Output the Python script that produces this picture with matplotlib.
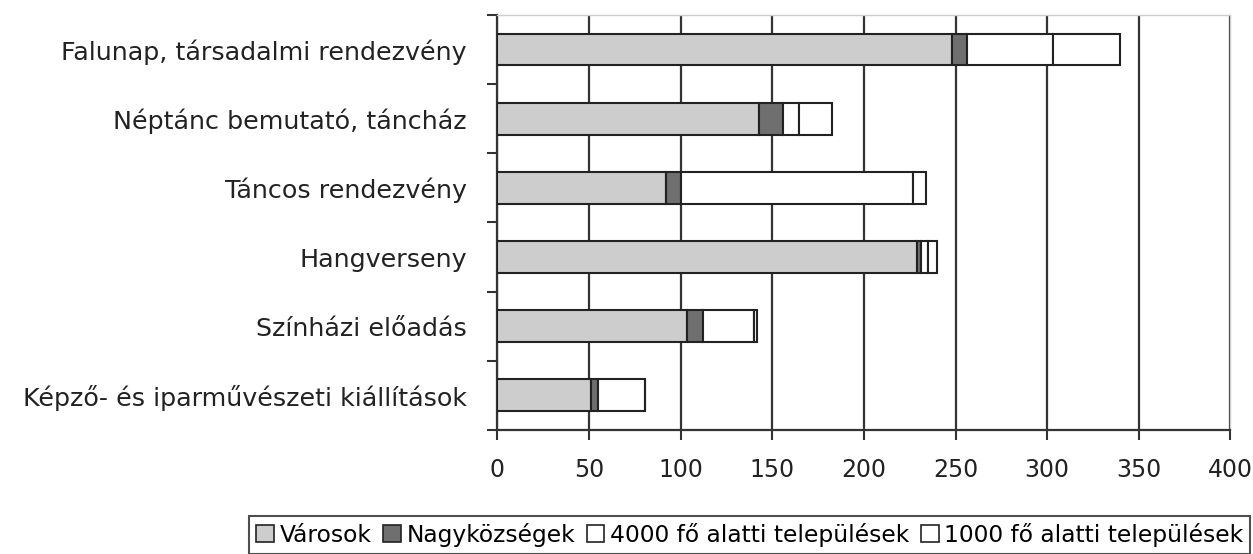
import matplotlib
matplotlib.use("Agg")
import matplotlib.pyplot as plt
from matplotlib.patches import Patch

categories = ["Falunap, társadalmi rendezvény", "Néptánc bemutató, táncház",
              "Táncos rendezvény", "Hangverseny", "Színházi előadás",
              "Képző- és iparművészeti kiállítások"]
series_names = ["Városok", "Nagyközségek", "4000 fő alatti települések",
                "1000 fő alatti települések"]
varosok = [248, 143, 92, 229, 103.5, 51]
nagykozsegek = [8, 13, 8, 2, 8.5, 4]
alatt4000 = [47, 8.5, 127, 4, 28, 25.5]
alatt1000 = [37, 18, 7, 5, 1.5, 0]
xticks = [0, 50, 100, 150, 200, 250, 300, 350, 400]

colors = ["#cdcdcd", "#6f6f6f", "#ffffff", "#ffffff"]

plt.rcParams['font.family'] = ['DejaVu Sans']
fig = plt.figure(figsize=(12.53, 5.54), dpi=100)
ax = fig.add_axes([0.397, 0.224, 0.585, 0.749])

y = list(range(len(categories)))
left = [0] * len(categories)
for vals, col in zip([varosok, nagykozsegek, alatt4000, alatt1000], colors):
    ax.barh(y, vals, left=left, height=0.46, color=col, edgecolor="#222222",
            linewidth=1.5, zorder=3)
    left = [l + v for l, v in zip(left, vals)]

ax.set_xlim(0, 400)
ax.set_ylim(len(categories) - 0.5, -0.5)
ax.set_xticks(xticks)
ax.set_xticklabels([str(t) for t in xticks], fontsize=17, color="#222222")
ax.set_yticks(y)
ax.set_yticklabels(categories, fontsize=18.3, color="#222222")
ax.tick_params(axis='y', length=0, pad=22)
ax.tick_params(axis='x', length=7, width=1.5, color="#333333", pad=13)
ax.set_yticks([i + 0.5 for i in range(-1, len(categories))], minor=True)
ax.tick_params(axis='y', which='minor', length=7, width=1.5, color="#333333")

ax.grid(axis='x', color="#333333", linewidth=1.6, zorder=0)
for s in ['left', 'bottom']:
    ax.spines[s].set_color("#333333")
    ax.spines[s].set_linewidth(1.6)
for s in ['top', 'right']:
    ax.spines[s].set_color("#cccccc")
    ax.spines[s].set_linewidth(1.0)

handles = [Patch(facecolor=c, edgecolor="#222222", linewidth=1.2) for c in colors]
leg = fig.legend(handles, series_names, loc='lower right',
                 bbox_to_anchor=(0.998, 0.0), ncol=4, fontsize=16.8,
                 frameon=True, fancybox=False, edgecolor="#222222",
                 handlelength=0.75, handleheight=0.75, handletextpad=0.25,
                 columnspacing=0.5, borderpad=0.3, borderaxespad=0.0)
leg.get_frame().set_linewidth(1.5)

fig.savefig("out.png", dpi=100, facecolor="white")
